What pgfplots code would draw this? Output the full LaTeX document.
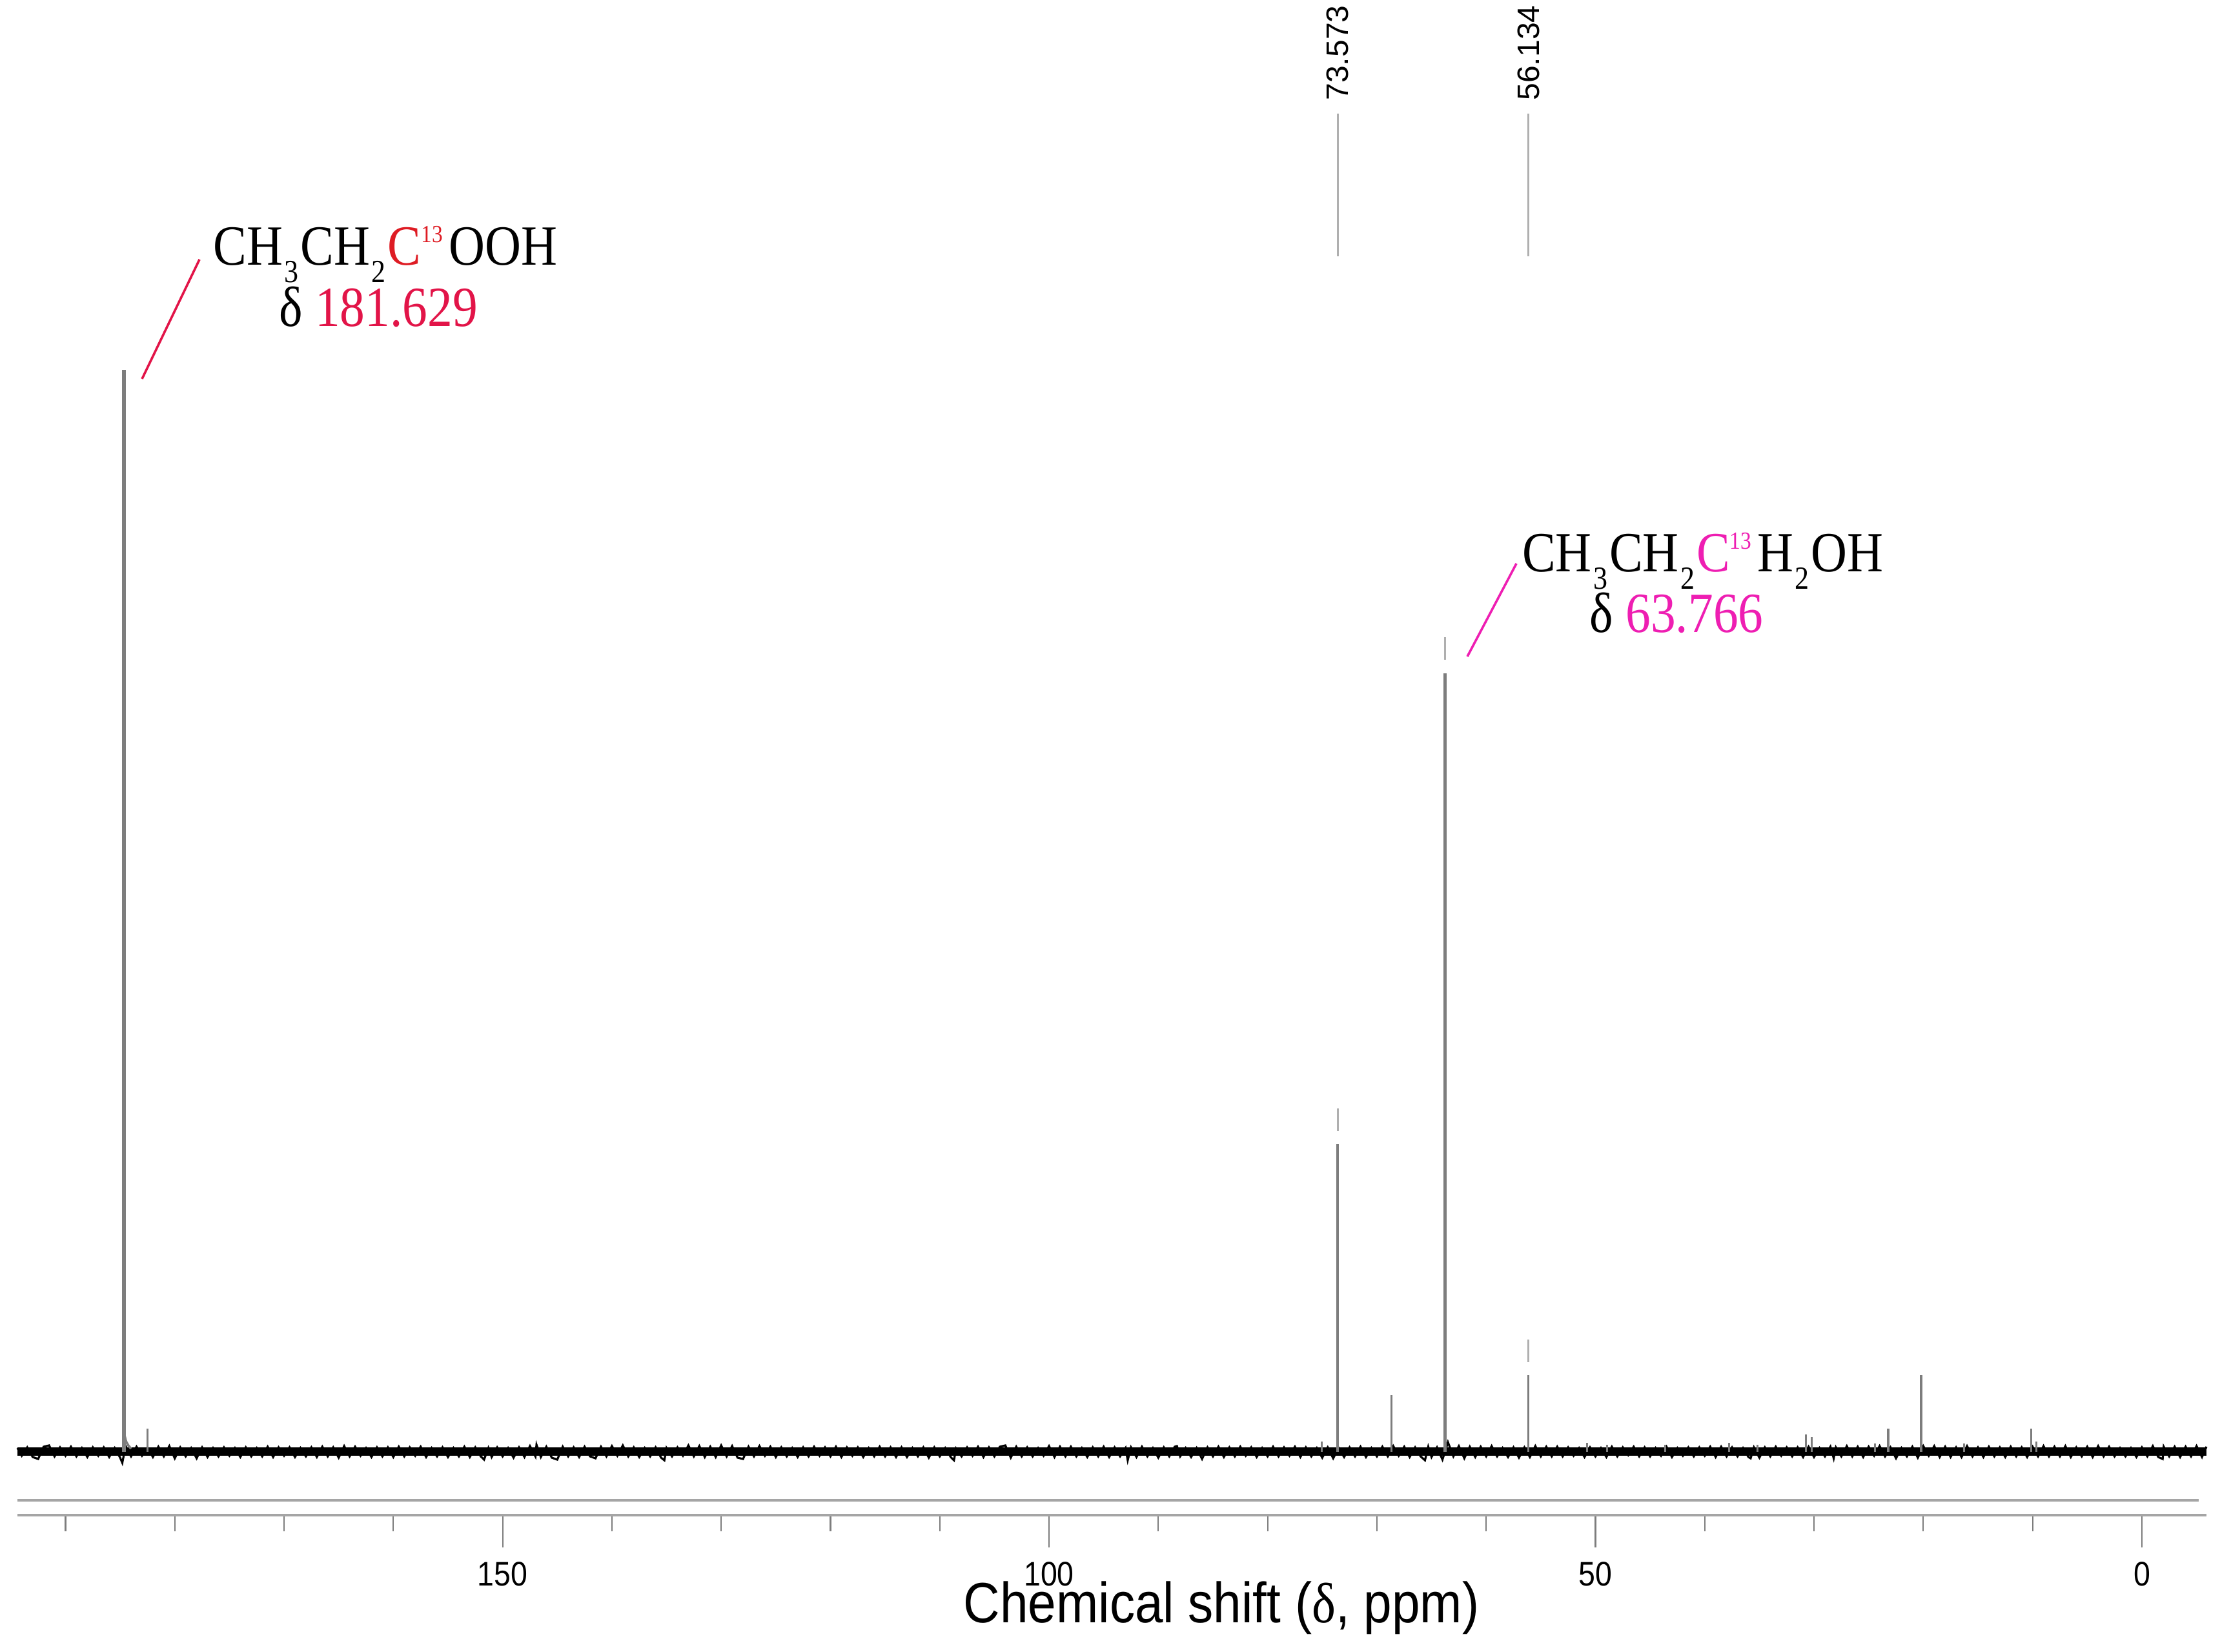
\documentclass[border=0pt]{standalone}
\usepackage{graphicx}
\usepackage{fontspec}
\usepackage{pgfplots}
\pgfplotsset{compat=1.18}
\setmainfont{Liberation Sans}
\newfontfamily\tnr{Liberation Serif}
\definecolor{axgray}{RGB}{165,165,165}
\definecolor{tickgray}{RGB}{125,125,125}
\definecolor{pkdark}{RGB}{125,125,125}
\definecolor{pkmid}{RGB}{125,125,125}
\definecolor{pklight}{RGB}{175,175,175}
\definecolor{acidred}{RGB}{222,28,36}
\definecolor{crimson}{RGB}{226,20,72}
\definecolor{hotpink}{RGB}{238,30,178}
\newcommand{\sq}[1]{\scalebox{.88}[1]{\fontsize{13.2}{14}\selectfont #1}}
\newcommand{\ann}[1]{\scalebox{.88}[1]{\tnr\fontsize{22}{24}\selectfont #1}}
\newcommand{\sbs}[1]{\hspace{.03em}\raisebox{-.3em}{\fontsize{12.5}{13}\selectfont #1}\hspace{.04em}}
\newcommand{\sps}[1]{\raisebox{.40em}{\fontsize{9.5}{10}\selectfont #1}\hspace{.12em}}
\begin{document}
\begin{tikzpicture}
\useasboundingbox (-6.75pt,-52.75pt) rectangle (857.25pt,586.75pt);
\begin{axis}[
  at={(0,0)},anchor=south west,
  scale only axis,width=847.75pt,height=586.75pt,
  x dir=reverse,
  xmin=-5.91,xmax=194.4,ymin=-98,ymax=2249,
  clip=false,
  axis x line*=bottom,
  axis y line=none,
  axis line style={draw=axgray,line width=1.15pt},
  xtick={0,50,100,150},
  xticklabels={\sq{0},\sq{50},\sq{100},\sq{150}},
  minor xtick={10,20,30,40,60,70,80,90,110,120,130,140,160,170,180,190},
  major tick length=12.5pt,
  minor tick length=6.25pt,
  tick align=outside,
  tick style={draw=tickgray,line width=.55pt},
  xticklabel style={yshift=-2pt},
  xlabel={\scalebox{.89}[1]{\fontsize{22}{24}\selectfont Chemical shift ({\tnr δ}, ppm)}},
  xlabel style={at={(axis description cs:0.5500,-0.0611)},anchor=center},
]
% second (upper) scale rule
\addplot[axgray,line width=1.15pt,forget plot] coordinates {(194.4,-75)(-5.2,-75)};
% connector lines under the peak labels
\addplot[pklight,line width=.85pt] coordinates {(73.573,2073)(73.573,1852)};
\addplot[pklight,line width=.85pt] coordinates {(56.134,2073)(56.134,1852)};
% detached top pieces of the truncated peaks
\addplot[pklight,line width=.85pt] coordinates {(73.573,532)(73.573,497)};
\addplot[pklight,line width=.85pt] coordinates {(63.766,1262)(63.766,1227)};
\addplot[pklight,line width=.85pt] coordinates {(56.134,174)(56.134,139)};
% baseline core
\addplot[black,line width=3.1pt] coordinates {(194.4,.5)(-5.91,.5)};
% baseline noise
\addplot[black,line width=.8pt] coordinates {
(194.4,6)(194,-6)(193.5,7)(193,-8)(192.5,-11)(192,8)(191.5,10)(191,-7)(190.5,7)(190,-6)(189.5,8)(189,-7)(188.5,6)(188,-8)(187.5,7)(187,-6)(186.5,7)(186,-8)(185.5,6)(185,-9)(184.8,-17)
(184.5,9)(184,-7)(183.5,8)(183,-6)(182.5,7)(182,-8)(181.5,8)(181,-7)(180.5,9)(180,-10)(179.5,7)(179,-7)(178.5,6)(178,-10)(177.5,7)(177,-8)(176.5,6)(176,-7)(175.5,7)(175,-6)
(174.5,6)(174,-8)(173.5,7)(173,-7)(172.5,6)(172,-7)(171.5,8)(171,-8)(170.5,7)(170,-6)(169.5,7)(169,-8)(168.5,6)(168,-7)(167.5,7)(167,-8)(166.5,8)(166,-7)(165.5,7)(165,-9)
(164.5,9)(164,-7)(163.5,8)(163,-6)(162.5,6)(162,-8)(161.5,7)(161,-7)(160.5,7)(160,-8)(159.5,8)(159,-7)(158.5,7)(158,-6)(157.5,8)(157,-8)(156.5,6)(156,-7)(155.5,7)(155,-8)
(154.5,6)(154,-7)(153.5,8)(153,-8)(152.5,7)(152,-7)(151.7,-12)(151.3,6)(151,-8)(150.5,7)(150,-7)(149.5,6)(149,-9)(148.5,7)(148,-8)(147.5,9)(147,-7)(146.9,11)(146.5,-8)(146,8)(145.5,-9)(145,-12)
(144.5,8)(144,-7)(143.5,7)(143,-8)(142.5,8)(142,-7)(141.5,-10)(141,8)(140.5,-7)(140,9)(139.5,-6)(139,10)(138.5,-7)(138,7)(137.5,-8)(137,6)(136.5,-7)(136,7)(135.5,-9)(135.2,-13)
(135,6)(134.5,-7)(134,7)(133.5,-6)(133,10)(132.5,-7)(132,9)(131.5,-8)(131,8)(130.5,-8)(130,10)(129.5,-7)(129,9)(128.5,-9)(128,-11)(127.5,8)(127,-7)(126.5,9)(126,-6)(125.5,8)
(125,-8)(124.5,7)(124,-7)(123.5,6)(123,-8)(122.5,7)(122,-7)(121.5,8)(121,-6)(120.5,7)(120,-7)(119.5,8)(119,-8)(118.5,7)(118,-6)(117.5,7)(117,-8)(116.5,6)(116,-7)(115.5,8)
(115,-7)(114.5,7)(114,-8)(113.5,7)(113,-8)(112.5,6)(112,-7)(111.5,7)(111,-9)(110.5,7)(110,-7)(109.5,6)(109,-8)(108.7,-13)(108.5,5)(108,-7)(107.5,7)(107,-6)(106.5,8)(106,-8)
(105.5,7)(105,-7)(104.5,8)(104,10)(103.5,-9)(103,8)(102.5,-7)(102,7)(101.5,-7)(101,6)(100.5,-6)(100,9)(99.5,-8)(99,8)(98.5,-7)(98,8)(97.5,-7)(97,6)(96.5,-8)(96,7)
(95.5,-7)(95,8)(94.5,-8)(94,7)(93.5,-7)(93,6)(92.8,-13)(92.5,7)(92,-8)(91.5,8)(91,-7)(90.5,6)(90,-9)(89.5,7)(89,-7)(88.5,8)(88.3,9)(88,-7)(87.5,6)(87,-8)
(86.5,6)(86,-11)(85.5,7)(85,-7)(84.5,8)(84,-8)(83.5,7)(83,-7)(82.5,8)(82,-6)(81.5,7)(81,-8)(80.5,6)(80,-7)(79.5,8)(79,-7)(78.5,7)(78,-6)(77.5,8)(77,-8)
(76.5,7)(76,-7)(75.5,6)(75,-9)(74.5,7)(74,-10)(73.5,6)(73,-8)(72.5,7)(72,-7)(71.5,8)(71,-8)(70.5,6)(70,-7)(69.5,8)(69,-7)(68.5,9)(68,-6)(67.5,8)(67,-8)
(66.5,7)(66,-7)(65.6,-13)(65.3,8)(65,-8)(64.5,7)(64,-12)(63.5,15)(63,-7)(62.5,9)(62,-10)(61.5,8)(61,-8)(60.5,8)(60,-7)(59.5,9)(59,-7)(58.5,6)(58,-8)(57.5,7)
(57,-9)(56.5,7)(56,-8)(55.5,9)(55,-7)(54.5,8)(54,-7)(53.5,8)(53,-7)(52.5,7)(52,-6)(51.5,6)(51,-8)(50.5,7)(50,-7)(49.5,6)(49,-8)(48.5,8)(48,-7)(47.5,7)
(47,-5)(46.5,8)(46,-7)(45.5,7)(45,-7)(44.5,6)(44,-6)(43.5,8)(43,-8)(42.5,6)(42,-6)(41.5,7)(41,-7)(40.5,7)(40,-6)(39.5,8)(39,-8)(38.5,8)(38,-7)(37.5,7)
(37,-7)(36.5,6)(36,-8)(35.8,-10)(35.5,7)(35,-9)(34.5,7)(34,-7)(33.5,8)(33,-6)(32.5,7)(32,-7)(31.5,7)(31,-8)(30.5,8)(30,-8)(29.5,6)(29,-7)(28.5,8)(28.2,-10)
(28,7)(27.5,-7)(27,9)(26.5,-7)(26,8)(25.5,-8)(25,8)(24.5,-6)(24,9)(23.5,-7)(23,7)(22.5,-10)(22,6)(21.5,-7)(21,8)(20.5,-9)(20,9)(19.5,-6)(19,9)(18.5,-8)
(18,8)(17.5,-8)(17,7)(16.5,-8)(16,9)(15.5,-7)(15,7)(14.5,-8)(14,8)(13.5,-7)(13,7)(12.5,-8)(12,8)(11.5,-7)(11,7)(10.5,-8)(10,8)(9.5,-7)(9,9)(8.5,-7)
(8,8)(7.5,-7)(7,9)(6.5,-8)(6,7)(5.5,-7)(5,8)(4.5,-8)(4,9)(3.5,-7)(3,8)(2.5,-7)(2,6)(1.5,-7)(1,6)(.5,-8)(0,7)(-.5,-7)(-1,9)(-1.5,-8)
(-1.9,-11)(-2,8)(-2.5,-7)(-3,8)(-3.5,-8)(-4,8)(-4.5,-7)(-5,9)(-5.5,-8)(-5.91,8)
};
% main truncated and strong peaks
\addplot[pkdark,line width=1.35pt] coordinates {(184.66,0)(184.66,1676)};
\addplot[pkdark,line width=1.15pt] coordinates {(63.766,0)(63.766,1206)};
\addplot[pkdark,line width=1pt] coordinates {(73.573,0)(73.573,477)};
% decay tail of the acid carbon
\addplot[pkdark,line width=.9pt] coordinates {(184.6,26)(184.45,16)(184.25,10)(184,5)};
% weaker peaks
\addplot[pkmid,ycomb,line width=.85pt] coordinates {
(182.5,36)(75.03,16)(68.66,88)(56.134,119)(50.77,14)(48.94,11)(43.62,11)(37.77,14)(35.17,11)(30.74,27)(30.21,23)(24.42,13)(23.21,36)(20.2,119)(16.27,13)(10.13,36)(9.66,16)};
% callouts
\node[anchor=center,rotate=90,font=\fontsize{12}{14}\selectfont] at (axis cs:73.573,2167) {73.573};
\node[anchor=center,rotate=90,font=\fontsize{12}{14}\selectfont] at (axis cs:56.134,2167) {56.134};
\end{axis}
\begin{scope}[shift={(-6.75pt,586.75pt)},x=.25pt,y=-.25pt]
\draw[crimson,line width=.9pt] (220,587) -- (309,402);
\draw[hotpink,line width=.9pt] (2273,1017) -- (2349,873);
\node[inner sep=0pt,anchor=base] at (597,411) {\ann{CH\sbs{3}CH\sbs{2}\textcolor{acidred}{C\sps{13}}OOH}};
\node[inner sep=0pt,anchor=base] at (586,506) {\ann{δ \textcolor{crimson}{181.629}}};
\node[inner sep=0pt,anchor=base] at (2638,886) {\ann{CH\sbs{3}CH\sbs{2}\textcolor{hotpink}{C\sps{13}}H\sbs{2}OH}};
\node[inner sep=0pt,anchor=base] at (2597,980) {\ann{δ \textcolor{hotpink}{63.766}}};
\end{scope}
\end{tikzpicture}
\end{document}
